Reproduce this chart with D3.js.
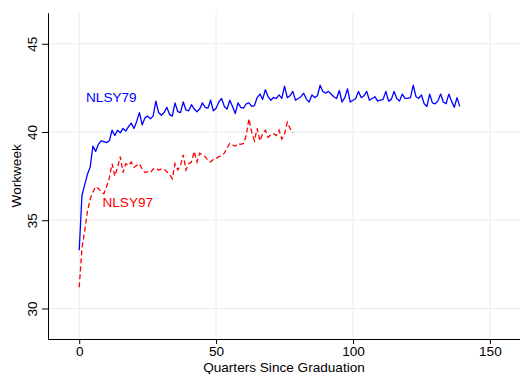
<!DOCTYPE html>
<html>
<head>
<meta charset="utf-8">
<script src="https://cdn.jsdelivr.net/npm/d3@7"></script>
<style>
  body { margin: 0; background: #fff; }
  svg { display: block; font-family: "Liberation Sans", Arial, sans-serif; }
</style>
</head>
<body>
<div id="chart"></div>
<script>
// Data
const nlsy79 = [
  33.3, 36.4, 37.0, 37.6, 38.0, 39.2, 38.9, 39.3, 39.5, 39.45,
  39.4, 39.5, 40.1, 39.8, 40.1, 39.95, 40.2, 40.05, 40.3, 40.5,
  40.2, 40.6, 41.1, 40.4, 40.8, 40.9, 40.75, 40.9, 41.75, 41.1,
  40.95, 41.1, 41.4, 41.0, 40.9, 41.65, 41.15, 41.1, 41.7, 41.25,
  41.2, 41.55, 41.3, 41.15, 41.3, 41.65, 41.4, 41.35, 41.8, 41.2,
  41.35, 41.7, 41.9, 41.45, 41.3, 41.8, 41.45, 41.05, 41.65, 41.4,
  41.35, 41.6, 41.65, 41.45, 41.5, 41.95, 42.15, 41.85, 42.4, 42.0,
  41.8, 41.95, 41.9, 42.1, 41.9, 42.6, 41.95, 42.05, 42.3, 41.8,
  41.9, 42.0, 42.2, 41.85, 41.7, 42.1, 41.95, 42.05, 42.65, 42.3,
  42.2, 42.3, 42.15, 42.0, 41.9, 42.35, 41.7, 41.95, 42.45, 41.7,
  41.8, 41.9, 42.3, 41.95, 42.05, 42.3, 41.8, 41.9, 42.0, 41.75,
  41.8, 41.85, 42.3, 41.75, 41.85, 42.3, 41.9, 41.75, 42.15, 41.9,
  41.9, 41.95, 42.65, 42.0, 41.9, 42.1, 41.6, 41.45, 42.15, 41.65,
  41.6, 41.75, 42.15, 41.7, 41.6, 42.15, 41.75, 41.4, 41.95, 41.45
];
const nlsy97 = [
  31.2, 33.4, 34.4, 35.5, 36.2, 36.6, 36.9, 36.8, 36.6, 36.5,
  36.9, 37.4, 38.2, 37.5, 38.0, 38.6, 37.7, 38.2, 38.1, 38.3,
  38.0, 38.1, 38.2, 37.9, 37.7, 37.75, 37.7, 37.9, 37.95, 37.85,
  37.9, 37.9, 37.75, 37.6, 37.35, 38.2, 37.85, 38.1, 38.7, 37.85,
  38.2, 38.3, 38.9, 38.3, 38.8, 38.7, 38.6, 38.4, 38.3, 38.45,
  38.5, 38.6, 38.65, 38.8, 39.1, 39.35, 39.25, 39.2, 39.35, 39.3,
  39.35, 39.8, 40.75, 40.0, 39.5, 40.2, 39.5, 39.9, 40.1, 39.7,
  39.85, 39.9, 39.8, 40.1, 39.6, 39.9, 40.55, 40.2, 39.95
];
const xTicks = [0, 50, 100, 150];
const yTicks = [30, 35, 40, 45];
const seriesNames = ["NLSY79", "NLSY97"];
const seriesColors = ["#0000ff", "#ff0000"];
const labelPos = [[2.5, 41.72], [8.5, 35.77]]; // [quarter, workweek] for text labels

// Dimensions
const width = 520;
const height = 374;
const plot = { left: 48, right: 520, top: 12.7, bottom: 339 };

const svg = d3
  .select("#chart")
  .append("svg")
  .attr("width", width)
  .attr("height", height);

// Scales
const xScale = d3.scaleLinear().domain([-11.4, 161]).range([plot.left, plot.right]);
const yScale = d3.scaleLinear().domain([28.27, 46.76]).range([plot.bottom, plot.top]);

// Grid
const grid = svg.append("g").attr("stroke", "#e6eef1").attr("stroke-width", 1);
grid
  .selectAll(".gx")
  .data(xTicks)
  .join("line")
  .attr("x1", (d) => xScale(d))
  .attr("x2", (d) => xScale(d))
  .attr("y1", plot.top)
  .attr("y2", plot.bottom);
grid
  .selectAll(".gy")
  .data(yTicks)
  .join("line")
  .attr("y1", (d) => yScale(d))
  .attr("y2", (d) => yScale(d))
  .attr("x1", plot.left)
  .attr("x2", plot.right);

// Lines
const line = d3
  .line()
  .x((d, i) => xScale(i))
  .y((d) => yScale(d));

svg
  .append("path")
  .datum(nlsy79)
  .attr("fill", "none")
  .attr("stroke", seriesColors[0])
  .attr("stroke-width", 1.3)
  .attr("stroke-linejoin", "round")
  .attr("d", line);

svg
  .append("path")
  .datum(nlsy97)
  .attr("fill", "none")
  .attr("stroke", seriesColors[1])
  .attr("stroke-width", 1.3)
  .attr("stroke-dasharray", "5,3")
  .attr("d", line);

// Series labels
svg
  .selectAll(".lbl")
  .data(seriesNames)
  .join("text")
  .attr("x", (d, i) => xScale(labelPos[i][0]))
  .attr("y", (d, i) => yScale(labelPos[i][1]))
  .attr("fill", (d, i) => seriesColors[i])
  .attr("font-size", "13.6px")
  .text((d) => d);

// Axes
const xAxis = d3.axisBottom(xScale).tickValues(xTicks).tickSize(5).tickSizeOuter(0);
const xAxisGroup = svg
  .append("g")
  .attr("transform", `translate(0, ${plot.bottom})`)
  .call(xAxis);
xAxisGroup.selectAll("text").attr("y", 7).attr("font-size", "13.6px").attr("fill", "#000");

const yAxis = d3.axisLeft(yScale).tickValues(yTicks).tickSize(6).tickSizeOuter(0);
const yAxisGroup = svg
  .append("g")
  .attr("transform", `translate(${plot.left}, 0)`)
  .call(yAxis);
yAxisGroup
  .selectAll("text")
  .attr("transform", "rotate(-90)")
  .attr("x", 0)
  .attr("y", -11.5)
  .attr("dy", 0)
  .attr("text-anchor", "middle")
  .attr("font-size", "13.6px")
  .attr("fill", "#000");

svg.selectAll(".domain, .tick line").attr("stroke", "#000");

// Axis titles
svg
  .append("text")
  .attr("x", (plot.left + plot.right) / 2)
  .attr("y", 372)
  .attr("text-anchor", "middle")
  .attr("font-size", "13.6px")
  .text("Quarters Since Graduation");

svg
  .append("text")
  .attr("transform", `translate(21, ${(plot.top + plot.bottom) / 2}) rotate(-90)`)
  .attr("text-anchor", "middle")
  .attr("font-size", "13.6px")
  .text("Workweek");
</script>
</body>
</html>
